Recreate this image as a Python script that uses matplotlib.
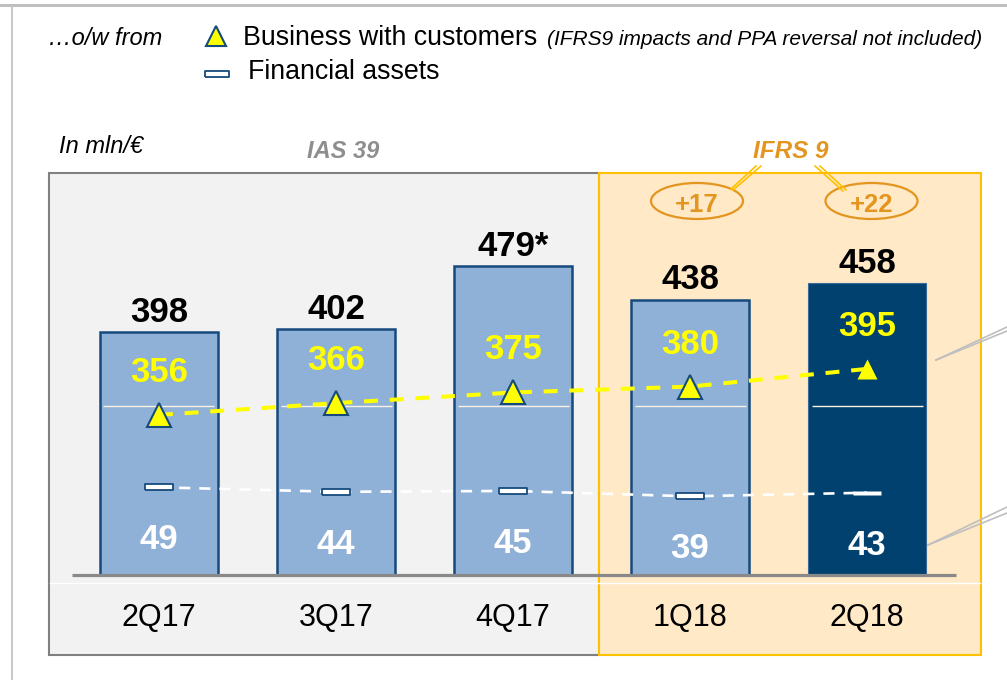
import matplotlib
matplotlib.use("Agg")
import matplotlib.pyplot as plt
from matplotlib.patches import Rectangle, Ellipse

plt.rcParams['font.family'] = ['Liberation Sans', 'DejaVu Sans']
plt.rcParams['lines.scale_dashes'] = False

# data
quarters = ['2Q17', '3Q17', '4Q17', '1Q18', '2Q18']
total = [398, 402, 479, 438, 458]
total_labels = ['398', '402', '479*', '438', '458']
business = [356, 366, 375, 380, 395]
financial = [49, 44, 45, 39, 43]
ifrs_delta = ['+17', '+22']

LIGHT_BAR = '#8FB1D7'
DARK_BAR = '#00416F'
NAVY = '#164A7C'
YELLOW = '#FFFF00'
ORANGE = '#E3951F'
GOLD = '#FFC000'
PEACH = '#FFE9C7'
GREY_BG = '#F2F2F2'

W, H = 1007, 680
fig = plt.figure(figsize=(W / 100, H / 100), dpi=100)


def px_rect(x0, y0, x1, y1):
    """pixel box (top-left origin) -> figure fraction rect"""
    return [x0 / W, 1 - y1 / H, (x1 - x0) / W, (y1 - y0) / H]


# background layer in pixel coords for the slide decoration
bg = fig.add_axes([0, 0, 1, 1])
bg.set_xlim(0, W)
bg.set_ylim(H, 0)
bg.axis('off')

bg.add_patch(Rectangle((0, 4), W, 3, color='#BFBFBF', lw=0))
bg.plot([12, 12], [7, H], color='#C8C8C8', lw=1.5)

bg.add_patch(Rectangle((49, 173), 550, 482, facecolor=GREY_BG, edgecolor='#808080', lw=1.5))
bg.add_patch(Rectangle((599, 173), 382, 482, facecolor=PEACH, edgecolor=GOLD, lw=1.5))
bg.plot([50, 980], [583, 583], color='white', lw=1)

# header / legend
rect_leg = [(-1.85, -0.5), (1.85, -0.5), (1.85, 0.5), (-1.85, 0.5), (-1.85, -0.5)]
bg.text(48, 45, '\u2026o/w from', fontsize=17, style='italic', va='baseline')
bg.plot(215.5, 35.5, marker='^', ms=15, mfc=YELLOW, mec=NAVY, mew=1.5)
bg.text(243, 45.3, 'Business with customers', fontsize=19.3, va='baseline')
bg.text(547, 45, '(IFRS9 impacts and PPA reversal not included)', fontsize=15,
        style='italic', va='baseline')
bg.plot(217, 73.5, marker=rect_leg, ms=17.5, mfc='white', mec=NAVY, mew=1.3)
bg.text(248, 79.3, 'Financial assets', fontsize=19.3, va='baseline')

bg.text(59, 153, 'In mln/\u20ac', fontsize=17, style='italic', va='baseline')
bg.text(307, 158, 'IAS 39', fontsize=17, style='italic', fontweight='bold',
        color='#8E8E8E', va='baseline')
bg.text(753, 158, 'IFRS 9', fontsize=17.5, style='italic', fontweight='bold',
        color=ORANGE, va='baseline')

# IFRS 9 deltas with connectors
for cx, lab in zip([697, 871.5], ifrs_delta):
    bg.add_patch(Ellipse((cx, 201), 92, 36, fc='none', ec=ORANGE, lw=1.6))
    bg.text(cx, 212.5, lab, fontsize=18.5, fontweight='bold', color=ORANGE,
            ha='center', va='baseline')
bg.plot([756, 731], [166, 189], color=GOLD, lw=1.2)
bg.plot([761, 733], [166, 190], color=GOLD, lw=1.2)
bg.plot([815, 843], [166, 191], color=GOLD, lw=1.2)
bg.plot([820, 846], [166, 190], color=GOLD, lw=1.2)

# callout lines running off the right edge
bg.plot([936, 1007], [360, 331], color='#BFBFBF', lw=1.2)
bg.plot([936, 1007], [360, 327], color='#BFBFBF', lw=1.2)
bg.plot([928, 1007], [545, 507], color='#BFBFBF', lw=1.2)
bg.plot([928, 1007], [545, 513], color='#BFBFBF', lw=1.2)

# bars: value axis is broken, bars start from ~100
ax = fig.add_axes(px_rect(48, 172, 980, 575))
ax.patch.set_visible(False)
x = list(range(len(quarters)))
ax.set_xlim(-0.627, 4.638)
ax.set_ylim(101.5, 593.9)
bar_w = 0.667
ax.bar(x, total, width=bar_w, color=[LIGHT_BAR] * 4 + [DARK_BAR],
       edgecolor=[NAVY] * 4 + ['#3A6A96'], linewidth=[1.8] * 4 + [0.8], zorder=2)
# axis break mark inside each bar
ax.hlines([307.6] * len(x), [i - bar_w / 2 + 0.02 for i in x], [i + bar_w / 2 - 0.02 for i in x],
          color='#FBF0E2', lw=1, zorder=3)
for i, v, lab in zip(x, total, total_labels):
    ax.annotate(lab, (i, v), xytext=(0, 7.5), textcoords='offset points',
                ha='center', va='baseline', fontsize=25, fontweight='bold')
ax.hlines(101.5, -0.49, 4.5, color='#898989', lw=2.3, zorder=4, clip_on=False)
ax.set_xticks(x, quarters, fontsize=22)
ax.tick_params(axis='x', length=0, pad=20)
ax.set_yticks([])
for s in ax.spines.values():
    s.set_visible(False)

# business with customers (own scale)
axb = ax.twinx()
axb.set_ylim(220.3, 561.9)
axb.plot(x, business, color=YELLOW, lw=2.9, dashes=(10, 8.5), zorder=2)
axb.plot(x[:4], business[:4], ls='none', marker='^', ms=17, mfc=YELLOW, mec=NAVY, mew=1.5, zorder=3)
axb.plot(x[4:], business[4:], ls='none', marker='^', ms=15, mfc=YELLOW, mec='none', zorder=3)
for i, v in zip(x, business):
    axb.annotate(str(v), (i, v), xytext=(0, 23.8), textcoords='offset points',
                 ha='center', va='baseline', fontsize=25, fontweight='bold', color=YELLOW)
axb.set_yticks([])

# financial assets (own scale)
axf = ax.twinx()
axf.set_ylim(-48.4, 399.3)
rect_m = [(-2.6, -0.5), (2.6, -0.5), (2.6, 0.5), (-2.6, 0.5), (-2.6, -0.5)]
rect_last = [(-3.4, -0.5), (3.4, -0.5), (3.4, 0.5), (-3.4, 0.5), (-3.4, -0.5)]
axf.plot(x, financial, color='white', lw=1.9, dashes=(8, 6.5), zorder=2)
axf.plot(x[:4], financial[:4], ls='none', marker=rect_m, ms=20, mfc='white', mec=NAVY, mew=1.3, zorder=3)
axf.plot(x[4:], financial[4:], ls='none', marker=rect_last, ms=19.5, mfc='white', mec='none', zorder=3)
for i, v in zip(x, financial):
    axf.annotate(str(v), (i, v), xytext=(0, -44.6), textcoords='offset points',
                 ha='center', va='baseline', fontsize=25, fontweight='bold', color='white')
axf.set_yticks([])

for a in (axb, axf):
    for s in a.spines.values():
        s.set_visible(False)

fig.savefig('out.png', dpi=100)
